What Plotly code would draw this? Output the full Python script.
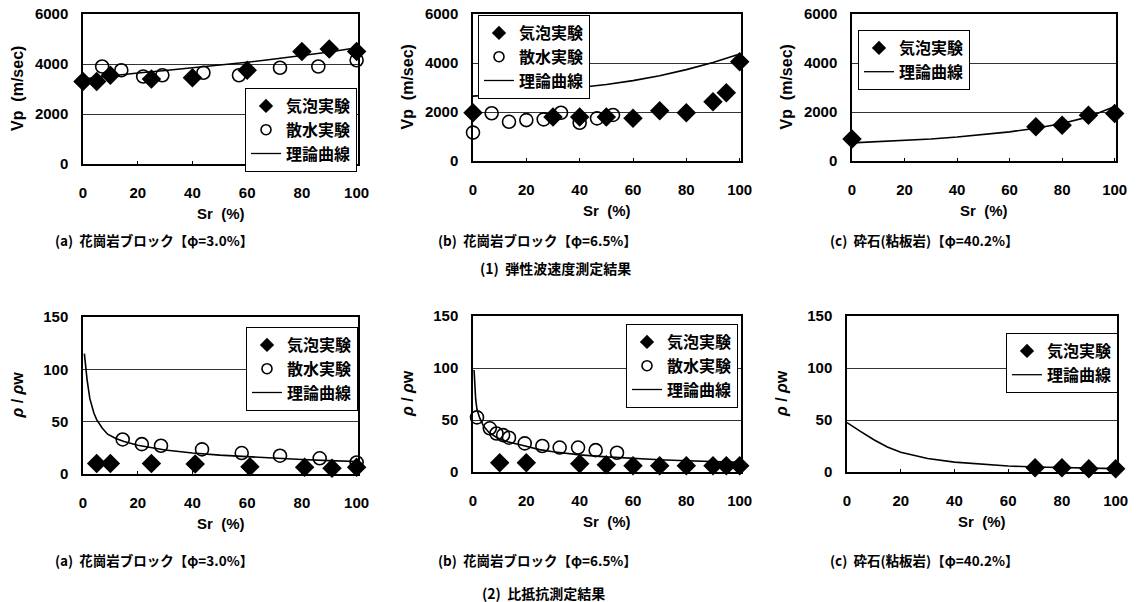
import plotly.graph_objects as go

# ---------------- data ----------------
# (1) Vp  panel a
a_vp_bub_x = [0, 5, 10, 25, 40, 60, 80, 90, 100]
a_vp_bub_y = [3300, 3300, 3550, 3400, 3450, 3750, 4500, 4600, 4500]
a_vp_spr_x = [7, 14, 22, 29, 44, 57, 72, 86, 100]
a_vp_spr_y = [3900, 3750, 3500, 3550, 3650, 3550, 3850, 3900, 4150]
a_vp_th_x = [0, 10, 20, 30, 40, 50, 60, 70, 80, 90, 100]
a_vp_th_y = [3400, 3530, 3640, 3740, 3840, 3950, 4070, 4200, 4330, 4480, 4650]
# (1) Vp  panel b
b_vp_bub_x = [0, 30, 40, 50, 60, 70, 80, 90, 95, 100]
b_vp_bub_y = [1970, 1800, 1800, 1800, 1740, 2050, 1970, 2420, 2790, 4050]
b_vp_spr_x = [0, 7, 13.5, 20, 26.5, 33, 40, 46.5, 52.5]
b_vp_spr_y = [1160, 1950, 1600, 1670, 1700, 1970, 1560, 1740, 1880]
b_vp_th_x = [0, 10, 20, 30, 40, 50, 60, 70, 80, 90, 100]
b_vp_th_y = [2650, 2710, 2790, 2880, 2990, 3120, 3280, 3480, 3730, 4020, 4370]
# (1) Vp  panel c
c_vp_bub_x = [0, 70, 80, 90, 100]
c_vp_bub_y = [900, 1400, 1460, 1870, 1940]
c_vp_th_x = [0, 10, 20, 30, 40, 50, 60, 70, 80, 90, 100]
c_vp_th_y = [740, 790, 840, 900, 980, 1070, 1190, 1340, 1530, 1800, 2220]

# (2) resistivity  panel a
a_rs_bub_x = [5, 10, 25, 41, 61, 81, 91, 100]
a_rs_bub_y = [10, 10, 10, 9.5, 7, 6.5, 5.5, 6.5]
a_rs_spr_x = [14.5, 21.5, 28.5, 43.5, 58, 72, 86.5, 100]
a_rs_spr_y = [33, 28.5, 27, 23.5, 20, 17.5, 15, 11]
a_rs_th_x = [0.5, 1, 1.5, 2.5, 4, 5, 7, 9, 12, 15, 20, 30, 40, 50, 60, 70, 80, 90, 100]
a_rs_th_y = [115, 100, 90, 72, 58, 52, 44, 38, 34, 31, 27.5, 23, 20, 18, 16.5, 15, 13.8, 12.8, 12]
# (2) resistivity  panel b
b_rs_bub_x = [10, 20, 40, 50, 60, 70, 80, 90, 95, 100]
b_rs_bub_y = [9, 9, 8, 7, 6, 6, 6, 6, 6, 6]
b_rs_spr_x = [1.5, 6.3, 8.8, 11.3, 13.5, 19.4, 26, 32.5, 39.4, 46, 54]
b_rs_spr_y = [52.5, 42, 37, 35.5, 33, 27.5, 25, 23.5, 23.5, 21, 18.5]
b_rs_th_x = [0.4, 1, 1.5, 2.5, 4, 6, 9, 13, 18, 25, 30, 40, 50, 60, 70, 80, 90, 100]
b_rs_th_y = [98, 70, 60, 52, 44, 38, 33, 29, 26, 21.5, 19.5, 16.5, 14.5, 13, 11.8, 10.8, 10, 9.3]
# (2) resistivity  panel c
c_rs_bub_x = [70, 80, 90, 100]
c_rs_bub_y = [4, 4, 3.2, 3.2]
c_rs_th_x = [0, 2, 5, 10, 15, 20, 30, 40, 50, 60, 70, 80, 90, 100]
c_rs_th_y = [47.5, 44, 39, 31, 24, 19, 13, 9.5, 7.3, 5.8, 4.8, 4.1, 3.6, 3.2]

names = ["気泡実験", "散水実験", "理論曲線"]
captions = ["(a)  花崗岩ブロック【φ=3.0%】", "(b)  花崗岩ブロック【φ=6.5%】", "(c)  砕石(粘板岩)【φ=40.2%】"]
section_titles = ["(1)  弾性波速度測定結果", "(2)  比抵抗測定結果"]
x_ticks = [0, 20, 40, 60, 80, 100]
vp_ticks = [0, 2000, 4000, 6000]
rs_ticks = [0, 50, 100, 150]

W, H = 1142, 602
JP = "Noto Sans CJK JP"
NUM = "Liberation Sans"

panels = [
    dict(x=(83, 358), y=(14, 164), bub=(a_vp_bub_x, a_vp_bub_y), spr=(a_vp_spr_x, a_vp_spr_y),
         th=(a_vp_th_x, a_vp_th_y), yr=[0, 6000], yt=vp_ticks, yt_title="Vp  (m/sec)",
         leg=dict(x=357, y=88, xanchor="right")),
    dict(x=(473, 741), y=(14, 161), bub=(b_vp_bub_x, b_vp_bub_y), spr=(b_vp_spr_x, b_vp_spr_y),
         th=(b_vp_th_x, b_vp_th_y), yr=[0, 6000], yt=vp_ticks, yt_title="Vp  (m/sec)",
         leg=dict(x=478, y=15, xanchor="left")),
    dict(x=(852, 1116), y=(14, 161), bub=(c_vp_bub_x, c_vp_bub_y), spr=None,
         th=(c_vp_th_x, c_vp_th_y), yr=[0, 6000], yt=vp_ticks, yt_title="Vp  (m/sec)",
         leg=dict(x=858, y=30, xanchor="left")),
    dict(x=(83, 358), y=(317, 474), bub=(a_rs_bub_x, a_rs_bub_y), spr=(a_rs_spr_x, a_rs_spr_y),
         th=(a_rs_th_x, a_rs_th_y), yr=[0, 150], yt=rs_ticks, yt_title="<i>ρ</i> / <i>ρ</i>w",
         leg=dict(x=358, y=327, xanchor="right")),
    dict(x=(473, 741), y=(316, 472), bub=(b_rs_bub_x, b_rs_bub_y), spr=(b_rs_spr_x, b_rs_spr_y),
         th=(b_rs_th_x, b_rs_th_y), yr=[0, 150], yt=rs_ticks, yt_title="<i>ρ</i> / <i>ρ</i>w",
         leg=dict(x=738, y=324, xanchor="right")),
    dict(x=(847, 1117), y=(316, 472), bub=(c_rs_bub_x, c_rs_bub_y), spr=None,
         th=(c_rs_th_x, c_rs_th_y), yr=[0, 150], yt=rs_ticks, yt_title="<i>ρ</i> / <i>ρ</i>w",
         leg=dict(x=1118, y=333, xanchor="right")),
]

fig = go.Figure()
layout = dict(
    width=W, height=H, margin=dict(l=0, r=0, t=0, b=0, autoexpand=False),
    paper_bgcolor="white", plot_bgcolor="white", showlegend=True,
)
annotations = []

for i, p in enumerate(panels, start=1):
    xa = "x" if i == 1 else f"x{i}"
    ya = "y" if i == 1 else f"y{i}"
    lg = "legend" if i == 1 else f"legend{i}"
    # data traces (not in legend)
    fig.add_trace(go.Scatter(x=p["th"][0], y=p["th"][1], mode="lines", name=names[2],
                             line=dict(color="black", width=1.6), xaxis=xa, yaxis=ya,
                             showlegend=False, cliponaxis=False))
    if p["spr"] is not None:
        fig.add_trace(go.Scatter(x=p["spr"][0], y=p["spr"][1], mode="markers", name=names[1],
                                 marker=dict(symbol="circle-open", size=13, color="black",
                                             line=dict(width=1.6, color="black")),
                                 xaxis=xa, yaxis=ya, showlegend=False, cliponaxis=False))
    fig.add_trace(go.Scatter(x=p["bub"][0], y=p["bub"][1], mode="markers", name=names[0],
                             marker=dict(symbol="diamond", size=15, color="black"),
                             xaxis=xa, yaxis=ya, showlegend=False, cliponaxis=False))
    # legend entries with smaller symbols
    fig.add_trace(go.Scatter(x=[None], y=[None], mode="markers", name=names[0],
                             marker=dict(symbol="diamond", size=11, color="black"),
                             xaxis=xa, yaxis=ya, legend=lg, legendrank=1))
    if p["spr"] is not None:
        fig.add_trace(go.Scatter(x=[None], y=[None], mode="markers", name=names[1],
                                 marker=dict(symbol="circle-open", size=10, color="black",
                                             line=dict(width=1.6, color="black")),
                                 xaxis=xa, yaxis=ya, legend=lg, legendrank=2))
    fig.add_trace(go.Scatter(x=[None], y=[None], mode="lines", name=names[2],
                             line=dict(color="black", width=1.3),
                             xaxis=xa, yaxis=ya, legend=lg, legendrank=3))

    xdom = [p["x"][0] / W, p["x"][1] / W]
    ydom = [1 - p["y"][1] / H, 1 - p["y"][0] / H]
    xkey = "xaxis" if i == 1 else f"xaxis{i}"
    ykey = "yaxis" if i == 1 else f"yaxis{i}"
    layout[xkey] = dict(domain=xdom, anchor=ya, range=[0, 100.5], tickvals=x_ticks,
                        automargin=False,
                        showgrid=False, zeroline=False, showline=True, linecolor="black",
                        linewidth=1.5, mirror=True, ticks="inside", ticklen=3,
                        tickcolor="black", ticklabelstandoff=14,
                        tickfont=dict(family=NUM, size=15, color="black", weight="bold"))
    layout[ykey] = dict(domain=ydom, anchor=xa, range=p["yr"], tickvals=p["yt"],
                        automargin=False,
                        showgrid=True, gridcolor="#333333", gridwidth=1, zeroline=False,
                        showline=True, linecolor="black", linewidth=1.5, mirror=True,
                        ticks="", ticklabelstandoff=10,
                        tickfont=dict(family=NUM, size=15, color="black", weight="bold"))
    L = p["leg"]
    layout[lg] = dict(x=L["x"] / W, y=1 - L["y"] / H, xanchor=L["xanchor"], yanchor="top",
                      bgcolor="white", bordercolor="black", borderwidth=1,
                      font=dict(family=JP, size=16, color="black", weight="bold"),
                      traceorder="normal", itemwidth=30, tracegroupgap=0,
                      itemsizing="trace")
    # axis titles
    xc = (xdom[0] + xdom[1]) / 2
    annotations.append(dict(text="Sr  (%)", x=xc, y=ydom[0], xref="paper", yref="paper",
                            xanchor="center", yanchor="top", yshift=-39, showarrow=False,
                            font=dict(family=NUM, size=15, color="black", weight="bold")))
    yc = (ydom[0] + ydom[1]) / 2
    annotations.append(dict(text=p["yt_title"], x=xdom[0], y=yc, xref="paper", yref="paper",
                            xanchor="center", yanchor="middle", xshift=-66, showarrow=False,
                            textangle=-90,
                            font=dict(family=NUM, size=16, color="black", weight="bold")))

# captions
cap_x = [154, 537, 924]
for row, (cy, sy, sx) in enumerate([(240, 268, 555), (560, 593, 543)]):
    for j, cx in enumerate(cap_x):
        annotations.append(dict(text=captions[j], x=cx / W, y=1 - cy / H, xref="paper", yref="paper",
                                xanchor="center", yanchor="middle", showarrow=False,
                                font=dict(family=JP, size=13.5, color="black", weight="bold")))
    annotations.append(dict(text=section_titles[row], x=sx / W, y=1 - sy / H, xref="paper", yref="paper",
                            xanchor="center", yanchor="middle", showarrow=False,
                            font=dict(family=JP, size=14, color="black", weight="bold")))

layout["annotations"] = annotations
fig.update_layout(**layout)
fig.write_html("out.html", config={"displayModeBar": False},
               post_script="document.body.style.margin='0px';document.body.style.overflow='hidden';")
